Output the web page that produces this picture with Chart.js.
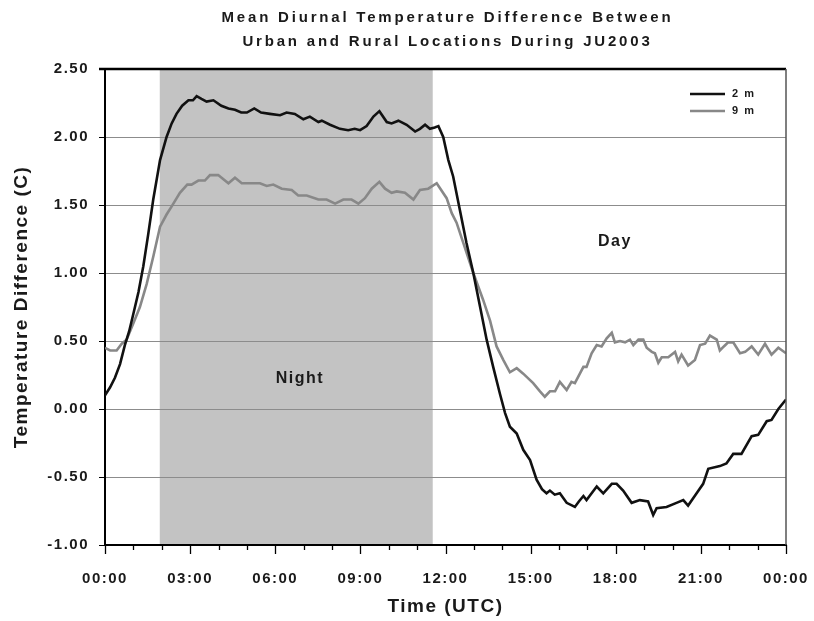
<!DOCTYPE html>
<html>
<head>
<meta charset="utf-8">
<script src="https://cdn.jsdelivr.net/npm/chart.js@4/dist/chart.umd.min.js"></script>
<style>
  body { margin: 0; background: #fff; }
  canvas { display: block; }
</style>
</head>
<body>
<canvas id="chart" width="814" height="621"></canvas>
<script>
// values (hours UTC, deg C)
const hours2m = [0, 0.18, 0.35, 0.53, 0.7, 0.85, 1.0, 1.18, 1.35, 1.52, 1.7, 1.94, 2.17, 2.35, 2.52, 2.72, 2.94, 3.1, 3.23, 3.4, 3.58, 3.82, 4.1, 4.35, 4.58, 4.8, 5.0, 5.26, 5.5, 5.81, 6.17, 6.4, 6.69, 6.99, 7.22, 7.52, 7.64, 7.93, 8.28, 8.57, 8.8, 8.99, 9.22, 9.46, 9.67, 9.93, 10.1, 10.34, 10.63, 10.93, 11.1, 11.28, 11.45, 11.62, 11.75, 11.92, 12.1, 12.27, 12.51, 12.74, 12.98, 13.22, 13.45, 13.68, 13.92, 14.1, 14.27, 14.51, 14.74, 14.98, 15.21, 15.4, 15.56, 15.68, 15.85, 16.03, 16.27, 16.56, 16.7, 16.86, 16.97, 17.15, 17.33, 17.56, 17.86, 18.03, 18.26, 18.56, 18.85, 19.14, 19.32, 19.44, 19.79, 20.14, 20.38, 20.55, 20.85, 21.08, 21.26, 21.67, 21.9, 22.14, 22.43, 22.79, 23.02, 23.32, 23.49, 23.73, 24];
const diff2m = [0.10, 0.16, 0.23, 0.33, 0.47, 0.57, 0.70, 0.86, 1.05, 1.28, 1.54, 1.83, 2.00, 2.10, 2.17, 2.23, 2.27, 2.27, 2.30, 2.28, 2.26, 2.27, 2.23, 2.21, 2.20, 2.18, 2.18, 2.21, 2.18, 2.17, 2.16, 2.18, 2.17, 2.13, 2.15, 2.11, 2.12, 2.09, 2.06, 2.05, 2.06, 2.05, 2.08, 2.15, 2.19, 2.11, 2.10, 2.12, 2.09, 2.04, 2.06, 2.09, 2.06, 2.07, 2.08, 2.00, 1.83, 1.71, 1.46, 1.22, 1.00, 0.75, 0.51, 0.31, 0.11, -0.03, -0.13, -0.18, -0.30, -0.375, -0.52, -0.59, -0.62, -0.60, -0.63, -0.62, -0.69, -0.72, -0.68, -0.64, -0.67, -0.62, -0.57, -0.62, -0.55, -0.55, -0.60, -0.69, -0.67, -0.68, -0.78, -0.73, -0.72, -0.69, -0.67, -0.71, -0.62, -0.55, -0.44, -0.42, -0.40, -0.33, -0.33, -0.20, -0.19, -0.09, -0.08, 0.0, 0.07];

const hours9m = [0, 0.18, 0.41, 0.59, 0.76, 1.0, 1.23, 1.47, 1.7, 1.94, 2.17, 2.35, 2.64, 2.9, 3.05, 3.29, 3.52, 3.7, 3.99, 4.35, 4.58, 4.82, 5.17, 5.46, 5.7, 5.93, 6.23, 6.58, 6.81, 7.11, 7.52, 7.81, 8.11, 8.4, 8.69, 8.93, 9.16, 9.4, 9.67, 9.87, 10.1, 10.28, 10.57, 10.87, 11.1, 11.39, 11.69, 12.04, 12.22, 12.39, 12.63, 12.98, 13.33, 13.57, 13.8, 14.04, 14.27, 14.51, 14.74, 15.09, 15.33, 15.5, 15.68, 15.86, 16.03, 16.27, 16.44, 16.56, 16.86, 16.97, 17.15, 17.33, 17.5, 17.68, 17.86, 17.97, 18.15, 18.33, 18.5, 18.62, 18.8, 18.97, 19.09, 19.27, 19.38, 19.5, 19.62, 19.85, 20.09, 20.2, 20.32, 20.55, 20.79, 20.97, 21.15, 21.32, 21.56, 21.67, 21.81, 21.96, 22.14, 22.38, 22.56, 22.79, 23.02, 23.26, 23.49, 23.73, 24];
const diff9m = [0.45, 0.43, 0.43, 0.48, 0.51, 0.63, 0.75, 0.92, 1.12, 1.34, 1.43, 1.49, 1.59, 1.65, 1.65, 1.68, 1.68, 1.72, 1.72, 1.66, 1.70, 1.66, 1.66, 1.66, 1.64, 1.65, 1.62, 1.61, 1.57, 1.57, 1.54, 1.54, 1.51, 1.54, 1.54, 1.51, 1.55, 1.62, 1.67, 1.62, 1.59, 1.60, 1.59, 1.54, 1.61, 1.62, 1.66, 1.55, 1.44, 1.37, 1.22, 1.00, 0.80, 0.65, 0.46, 0.36, 0.27, 0.30, 0.26, 0.19, 0.13, 0.09, 0.13, 0.13, 0.20, 0.14, 0.20, 0.19, 0.31, 0.31, 0.41, 0.47, 0.46, 0.52, 0.56, 0.49, 0.50, 0.49, 0.51, 0.47, 0.51, 0.51, 0.45, 0.42, 0.41, 0.34, 0.38, 0.38, 0.42, 0.35, 0.40, 0.32, 0.36, 0.47, 0.48, 0.54, 0.51, 0.43, 0.46, 0.49, 0.49, 0.41, 0.42, 0.46, 0.40, 0.48, 0.40, 0.45, 0.41];

const tickHours = [0, 3, 6, 9, 12, 15, 18, 21, 24];
const tickLabels = ['00:00', '03:00', '06:00', '09:00', '12:00', '15:00', '18:00', '21:00', '00:00'];
const nightHours = [1.93, 11.55];
const titleLines = ['Mean Diurnal Temperature Difference Between', 'Urban and Rural Locations During JU2003'];

const FONT = '"Liberation Sans", Arial, sans-serif';

function spacing(chart, px) {
  chart.ctx.letterSpacing = px;
}

const extras = {
  id: 'extras',
  beforeUpdate(chart) { spacing(chart, '1.5px'); },
  beforeLayout(chart) { spacing(chart, '1.5px'); },
  beforeDraw(chart) {
    const { ctx, chartArea: a, scales: { x } } = chart;
    spacing(chart, '1.5px');
    // night shading, under the grid
    const x0 = x.getPixelForValue(nightHours[0]);
    const x1 = x.getPixelForValue(nightHours[1]);
    ctx.save();
    ctx.fillStyle = '#c3c3c3';
    ctx.fillRect(x0, a.top, x1 - x0, a.bottom - a.top);
    ctx.restore();
  },
  afterDraw(chart) {
    const { ctx, chartArea: a, scales: { x, y } } = chart;
    ctx.save();
    // frame top / right
    ctx.strokeStyle = '#000';
    ctx.lineWidth = 2.5;
    ctx.beginPath();
    ctx.moveTo(a.left - 6, a.top);
    ctx.lineTo(a.right, a.top);
    ctx.stroke();
    ctx.strokeStyle = '#555';
    ctx.lineWidth = 1.5;
    ctx.beginPath();
    ctx.moveTo(a.right, a.top);
    ctx.lineTo(a.right, a.bottom);
    ctx.stroke();

    // x tick marks, hourly minor, 3-hourly major
    ctx.strokeStyle = '#000';
    ctx.lineWidth = 1.3;
    for (let h = 0; h <= 24; h++) {
      const px = Math.round(x.getPixelForValue(h)) + 0.5;
      const len = h % 3 === 0 ? 9 : 5;
      ctx.beginPath();
      ctx.moveTo(px, a.bottom);
      ctx.lineTo(px, a.bottom + len);
      ctx.stroke();
    }

    // title
    ctx.fillStyle = '#1a1a1a';
    ctx.textAlign = 'center';
    ctx.textBaseline = 'middle';
    ctx.font = 'bold 15px ' + FONT;
    ctx.letterSpacing = '2.8px';
    const cx = (a.left + a.right) / 2 + 2;
    ctx.fillText(titleLines[0], cx, 18);
    ctx.fillText(titleLines[1], cx, 42);

    // Night / Day labels
    ctx.font = 'bold 16px ' + FONT;
    ctx.letterSpacing = '1.5px';
    ctx.fillText('Night', x.getPixelForValue(6.87), y.getPixelForValue(0.22));
    ctx.fillText('Day', x.getPixelForValue(17.97), y.getPixelForValue(1.23));

    // legend
    ctx.font = 'bold 11px ' + FONT;
    ctx.letterSpacing = '1.5px';
    ctx.textAlign = 'left';
    chart.data.datasets.forEach((ds, i) => {
      const ly = 94 + i * 17;
      ctx.strokeStyle = ds.borderColor;
      ctx.lineWidth = 2.5;
      ctx.beginPath();
      ctx.moveTo(690, ly);
      ctx.lineTo(725, ly);
      ctx.stroke();
      ctx.fillStyle = '#1a1a1a';
      ctx.fillText(ds.label, 732, ly);
    });
    ctx.restore();
    spacing(chart, '1.5px');
  }
};

new Chart(document.getElementById('chart'), {
  type: 'line',
  data: {
    datasets: [
      {
        label: '2 m',
        data: hours2m.map((h, i) => ({ x: h, y: diff2m[i] })),
        borderColor: '#111111',
        borderWidth: 2.6,
        pointRadius: 0,
        tension: 0
      },
      {
        label: '9 m',
        data: hours9m.map((h, i) => ({ x: h, y: diff9m[i] })),
        borderColor: '#888888',
        borderWidth: 2.6,
        pointRadius: 0,
        tension: 0
      }
    ]
  },
  options: {
    responsive: false,
    animation: false,
    devicePixelRatio: 1,
    layout: { padding: { top: 69, right: 28, left: 0, bottom: 0 } },
    plugins: {
      legend: { display: false },
      title: { display: false },
      tooltip: { enabled: false }
    },
    scales: {
      x: {
        type: 'linear',
        min: 0,
        max: 24,
        afterFit(s) { s.height = 76; s.paddingLeft = 0; s.paddingRight = 0; },
        afterBuildTicks(s) { s.ticks = tickHours.map(v => ({ value: v })); },
        ticks: {
          autoSkip: false,
          maxRotation: 0,
          padding: 25,
          color: '#1a1a1a',
          font: { family: FONT, size: 15, weight: 'bold' },
          callback: (v) => tickLabels[tickHours.indexOf(v)]
        },
        grid: { drawOnChartArea: false, drawTicks: false },
        border: { color: '#000', width: 2 },
        title: {
          display: true,
          text: 'Time (UTC)',
          color: '#1a1a1a',
          font: { family: FONT, size: 19, weight: 'bold' },
          padding: { top: 0, bottom: 3 }
        }
      },
      y: {
        min: -1,
        max: 2.5,
        afterFit(s) { s.width = 105; s.paddingTop = 0; s.paddingBottom = 0; },
        ticks: {
          stepSize: 0.5,
          padding: 10,
          color: '#1a1a1a',
          font: { family: FONT, size: 15, weight: 'bold' },
          callback: (v) => v.toFixed(2)
        },
        grid: { color: '#8c8c8c', lineWidth: 1, tickColor: '#000', tickLength: 6 },
        border: { color: '#000', width: 2 },
        title: {
          display: true,
          text: 'Temperature Difference (C)',
          color: '#1a1a1a',
          font: { family: FONT, size: 19, weight: 'bold' },
          padding: { top: 10, bottom: 0 }
        }
      }
    }
  },
  plugins: [extras]
});
</script>
</body>
</html>
